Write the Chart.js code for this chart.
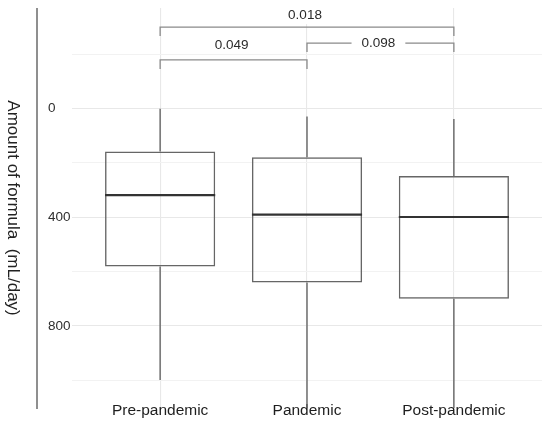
<!DOCTYPE html>
<html><head><meta charset="utf-8">
<script src="https://cdn.jsdelivr.net/npm/chart.js@4/dist/chart.umd.min.js"></script>
<style>html,body{margin:0;padding:0;background:#fff}</style>
</head><body>
<canvas id="c" width="550" height="426" style="display:block"></canvas>
<script>
const categories = ['Pre-pandemic', 'Pandemic', 'Post-pandemic'];
const whiskerLow = [0, 29, 38];
const q1Values = [158, 179, 248];
const medianValues = [318, 390, 399];
const q3Values = [581, 640, 700];
const whiskerHigh = [1000, 1150, 1150];
const yGridValues = [-200, 0, 200, 400, 600, 800, 1000];
const yLabelValues = [0, 400, 800];
const comparisonFrom = [1, 2, 1];
const comparisonTo = [2, 3, 3];
const pValues = ['0.049', '0.098', '0.018'];
const bracketLevels = [-180, -242, -301];
const yTitle = 'Amount of formula  (mL/day)';

const FONT = '"Liberation Sans", Arial, Helvetica, sans-serif';
const MAJOR = '#e8e8e8', MINOR = '#f2f2f2';
const LABEL_LIFT = [15, 0, 12];

const boxPlugin = {
  id: 'boxParts',
  beforeDatasetsDraw(chart) {
    const {ctx, chartArea: a, scales: {x, y}} = chart;
    ctx.save();
    ctx.beginPath(); ctx.rect(a.left, a.top, a.right - a.left, a.bottom - a.top); ctx.clip();
    ctx.strokeStyle = '#666'; ctx.lineWidth = 1.4;
    categories.forEach((c, i) => {
      const px = x.getPixelForValue(i + 1);
      ctx.beginPath();
      ctx.moveTo(px, y.getPixelForValue(whiskerLow[i])); ctx.lineTo(px, y.getPixelForValue(q1Values[i]));
      ctx.moveTo(px, y.getPixelForValue(q3Values[i])); ctx.lineTo(px, y.getPixelForValue(whiskerHigh[i]));
      ctx.stroke();
    });
    ctx.restore();
  },
  afterDatasetsDraw(chart) {
    const {ctx, scales: {x, y}} = chart;
    const meta = chart.getDatasetMeta(0);
    ctx.save();
    ctx.strokeStyle = '#333'; ctx.lineWidth = 2.2;
    meta.data.forEach((bar, i) => {
      const w = bar.width / 2;
      const py = y.getPixelForValue(medianValues[i]);
      ctx.beginPath(); ctx.moveTo(bar.x - w, py); ctx.lineTo(bar.x + w, py); ctx.stroke();
    });
    ctx.font = '13.5px ' + FONT;
    ctx.textAlign = 'center'; ctx.textBaseline = 'middle';
    pValues.forEach((p, i) => {
      const x1 = x.getPixelForValue(comparisonFrom[i]);
      const x2 = x.getPixelForValue(comparisonTo[i]);
      const ly = y.getPixelForValue(bracketLevels[i]);
      const tip = 9;
      const inline = LABEL_LIFT[i] === 0;
      const tw = ctx.measureText(p).width;
      const tx = (x1 + x2) / 2 - 2;
      const ty = ly - LABEL_LIFT[i];
      ctx.strokeStyle = '#8a8a8a'; ctx.lineWidth = 1.3;
      ctx.beginPath();
      ctx.moveTo(x1, ly + tip); ctx.lineTo(x1, ly);
      if (inline) {
        ctx.lineTo(tx - tw / 2 - 10, ly);
        ctx.moveTo(tx + tw / 2 + 10, ly);
      }
      ctx.lineTo(x2, ly); ctx.lineTo(x2, ly + tip);
      ctx.stroke();
      ctx.fillStyle = '#fff';
      if (!inline) ctx.fillRect(tx - tw / 2 - 7, ty - 8, tw + 14, 17);
      ctx.fillStyle = '#2a2a2a';
      ctx.fillText(p, tx, ty);
    });
    ctx.restore();
  },
  afterDraw(chart) {
    const {ctx, chartArea: a} = chart;
    ctx.save();
    ctx.strokeStyle = '#6a6a6a'; ctx.lineWidth = 1.5;
    ctx.beginPath(); ctx.moveTo(37, a.top); ctx.lineTo(37, a.bottom + 1); ctx.stroke();
    ctx.translate(13, (a.top + a.bottom) / 2);
    ctx.rotate(Math.PI / 2);
    ctx.font = '17px ' + FONT; ctx.fillStyle = '#222';
    ctx.textAlign = 'center'; ctx.textBaseline = 'middle';
    ctx.fillText(yTitle, 0, 0);
    ctx.restore();
  }
};

new Chart(document.getElementById('c'), {
  type: 'bar',
  data: {
    datasets: [{
      data: categories.map((c, i) => ({x: i + 1, y: [q1Values[i], q3Values[i]]})),
      backgroundColor: 'rgba(255,255,255,0)',
      borderColor: '#666',
      borderWidth: 1.4,
      borderSkipped: false,
      barPercentage: 0.75,
      categoryPercentage: 1
    }]
  },
  options: {
    responsive: false,
    animation: false,
    devicePixelRatio: 1,
    layout: {padding: {left: 48, top: 8, right: 8, bottom: 0}},
    plugins: {legend: {display: false}, tooltip: {enabled: false}},
    scales: {
      x: {
        type: 'linear', min: 0.4, max: 3.6, offset: false,
        afterBuildTicks: s => { s.ticks = [1, 2, 3].map(v => ({value: v})); },
        afterFit: s => { s.height = 18; },
        ticks: {
          callback: v => categories[Math.round(v) - 1] || '',
          font: {family: FONT, size: 15.5}, color: '#1e1e1e', padding: -11.6, mirror: true,
          maxRotation: 0, autoSkip: false
        },
        grid: {color: MAJOR, drawTicks: false, lineWidth: 1.1, offset: false},
        border: {display: false}
      },
      y: {
        type: 'linear', reverse: true, min: -371, max: 1103,
        afterBuildTicks: s => { s.ticks = yGridValues.map(v => ({value: v})); },
        afterFit: s => { s.width = 24; },
        ticks: {
          callback: v => yLabelValues.includes(v) ? String(v) : '',
          font: {family: FONT, size: 13.5}, color: '#2e2e2e',
          crossAlign: 'far', padding: 0, autoSkip: false
        },
        grid: {
          color: c => (c.tick && yLabelValues.includes(c.tick.value)) ? MAJOR : MINOR,
          drawTicks: false, lineWidth: 1.1
        },
        border: {display: false}
      }
    }
  },
  plugins: [boxPlugin]
});
</script>
</body></html>
